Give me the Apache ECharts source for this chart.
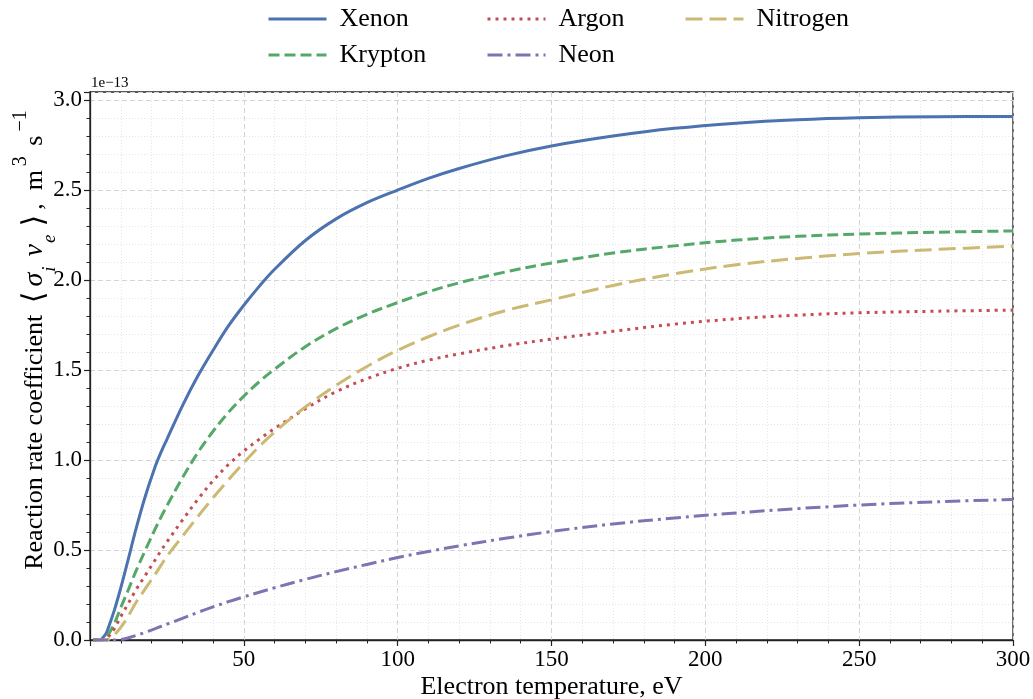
<!DOCTYPE html>
<html>
<head>
<meta charset="utf-8">
<script src="https://cdn.jsdelivr.net/npm/echarts@6/dist/echarts.min.js"></script>
<style>
html,body{margin:0;padding:0;background:#fff;}
#chart{width:1033px;height:699px;}
</style>
</head>
<body>
<div id="chart"></div>
<script>
// Electron temperature, eV
const temperature = [1, 3, 5, 6, 8, 10, 12, 15, 18, 21, 23, 25, 30, 35, 40, 45, 50, 55, 60, 70, 80, 90, 100, 110, 120, 135, 150, 170, 190, 210, 230, 250, 275, 300];
// Reaction rate coefficient, units of 1e-13 m^3 s^-1
const xenon    = [0, 0, 0.03, 0.07, 0.17, 0.29, 0.42, 0.62, 0.80, 0.955, 1.04, 1.115, 1.30, 1.465, 1.61, 1.745, 1.86, 1.965, 2.06, 2.22, 2.34, 2.43, 2.50, 2.565, 2.62, 2.69, 2.745, 2.80, 2.843, 2.872, 2.891, 2.902, 2.908, 2.909];
const krypton  = [0, 0, 0.005, 0.03, 0.095, 0.18, 0.26, 0.385, 0.50, 0.61, 0.68, 0.745, 0.90, 1.04, 1.16, 1.265, 1.355, 1.435, 1.505, 1.63, 1.73, 1.81, 1.875, 1.935, 1.985, 2.045, 2.095, 2.15, 2.19, 2.222, 2.243, 2.256, 2.266, 2.273];
const argon    = [0, 0, 0.005, 0.02, 0.065, 0.13, 0.19, 0.28, 0.36, 0.44, 0.494, 0.545, 0.665, 0.78, 0.885, 0.975, 1.05, 1.115, 1.175, 1.285, 1.38, 1.452, 1.51, 1.555, 1.59, 1.635, 1.672, 1.715, 1.755, 1.785, 1.805, 1.818, 1.827, 1.833];
const nitrogen = [0, 0, 0, 0.003, 0.03, 0.07, 0.12, 0.21, 0.285, 0.36, 0.413, 0.465, 0.575, 0.685, 0.79, 0.89, 0.985, 1.075, 1.155, 1.295, 1.415, 1.52, 1.61, 1.685, 1.75, 1.83, 1.89, 1.97, 2.035, 2.085, 2.12, 2.147, 2.17, 2.188];
const neon     = [0, 0, 0, 0, 0, 0.003, 0.01, 0.025, 0.043, 0.062, 0.075, 0.088, 0.12, 0.153, 0.184, 0.213, 0.24, 0.265, 0.29, 0.337, 0.38, 0.42, 0.458, 0.492, 0.523, 0.565, 0.603, 0.645, 0.678, 0.706, 0.73, 0.75, 0.768, 0.781];

const seriesNames = ['Xenon', 'Krypton', 'Argon', 'Nitrogen', 'Neon'];
const seriesData = [xenon, krypton, argon, nitrogen, neon];
const seriesColors = ['#4C72B0', '#55A868', '#C44E52', '#CCB974', '#8172B2'];
const seriesDash = ['solid', [11, 5], [3, 5], [17, 7], [15, 5, 3, 5]];

const FONT = '"Liberation Serif", "DejaVu Serif", serif';

const chart = echarts.init(document.getElementById('chart'), null, {renderer: 'canvas'});

const series = seriesNames.map((name, i) => ({
  name: name,
  type: 'line',
  data: temperature.map((t, k) => [t, seriesData[i][k]]),
  symbol: 'none',
  smooth: 0.35,
  clip: true,
  color: seriesColors[i],
  lineStyle: {width: 3, color: seriesColors[i], type: seriesDash[i], cap: 'butt'},
  emphasis: {disabled: true}
}));

function legendCfg(names, left) {
  return {
    data: names,
    orient: 'vertical',
    left: left,
    top: 0,
    itemWidth: 58,
    itemHeight: 14,
    itemGap: 8,
    itemStyle: {opacity: 0},
    lineStyle: {width: 3},
    textStyle: {fontFamily: FONT, fontSize: 26, color: '#000', lineHeight: 28, padding: [0, 0, 0, 8]}
  };
}

const option = {
  animation: false,
  backgroundColor: '#fff',
  legend: [
    legendCfg(['Xenon', 'Krypton'], 262),
    legendCfg(['Argon', 'Neon'], 481),
    legendCfg(['Nitrogen'], 679)
  ],
  grid: {left: 90, right: 20, top: 92, bottom: 59, outerBoundsMode: 'none', containLabel: false,
    show: true, borderColor: '#222', borderWidth: 1.3, backgroundColor: 'transparent'},
  xAxis: {
    type: 'value',
    min: 0, max: 300, interval: 50,
    name: 'Electron temperature, eV',
    nameLocation: 'middle',
    nameGap: 34,
    nameMoveOverlap: false,
    nameTextStyle: {fontFamily: FONT, fontSize: 26, color: '#000'},
    axisLine: {show: true, onZero: false, lineStyle: {color: '#222', width: 1.3}},
    axisTick: {show: true, inside: false, length: 6, lineStyle: {color: '#222', width: 1.2}},
    minorTick: {show: true, splitNumber: 5, length: 3.5, lineStyle: {color: '#222', width: 1}},
    axisLabel: {fontFamily: FONT, fontSize: 23, color: '#000', margin: 8,
      formatter: v => (v === 0 ? '' : String(v))},
    splitLine: {show: true, lineStyle: {color: '#d4d4d4', width: 1, type: [5, 3]}},
    minorSplitLine: {show: true, lineStyle: {color: '#e6e6e6', width: 1, type: [1, 2]}}
  },
  yAxis: {
    type: 'value',
    min: 0, max: 3.045, interval: 0.5,
    name: '{n|Reaction rate coefficient }{b|⟨}{i|σ}{sub|i}{i| v}{sub|e}{b|⟩}{n|,  m}{sup|3}{n| s}{sup|−1}',
    nameLocation: 'middle',
    nameGap: 31,
    nameMoveOverlap: false,
    nameRotate: 90,
    nameTextStyle: {
      fontFamily: FONT, fontSize: 26, color: '#000',
      padding: [0, 0, 0, 56],
      rich: {
        n: {fontFamily: FONT, fontSize: 26, color: '#000', lineHeight: 48},
        b: {fontFamily: '"DejaVu Serif", serif', fontSize: 30, color: '#000', lineHeight: 48, padding: [0, 5, 0, 5]},
        i: {fontFamily: FONT, fontSize: 28, fontStyle: 'italic', color: '#000', lineHeight: 48},
        sub: {fontFamily: FONT, fontSize: 19, fontStyle: 'italic', color: '#000', lineHeight: 28, verticalAlign: 'bottom', padding: [0, 3, 0, 1]},
        sup: {fontFamily: FONT, fontSize: 20, color: '#000', lineHeight: 14, verticalAlign: 'top', padding: [0, 4, 0, 4]}
      }
    },
    axisLine: {show: true, lineStyle: {color: '#222', width: 1.3}},
    axisTick: {show: true, inside: false, length: 6, lineStyle: {color: '#222', width: 1.2}},
    minorTick: {show: true, splitNumber: 5, length: 3.5, lineStyle: {color: '#222', width: 1}},
    axisLabel: {fontFamily: FONT, fontSize: 23, color: '#000', margin: 8,
      formatter: v => (Math.abs(v * 2 - Math.round(v * 2)) < 1e-6 ? v.toFixed(1) : '')},
    splitLine: {show: true, lineStyle: {color: '#d4d4d4', width: 1, type: [5, 3]}},
    minorSplitLine: {show: true, lineStyle: {color: '#e6e6e6', width: 1, type: [1, 2]}}
  },
  graphic: [{
    type: 'text', left: 91, top: 76,
    style: {text: '1e−13', font: '15px "Liberation Serif", serif', fill: '#000'}
  }],
  series: series
};

chart.setOption(option);
</script>
</body>
</html>
